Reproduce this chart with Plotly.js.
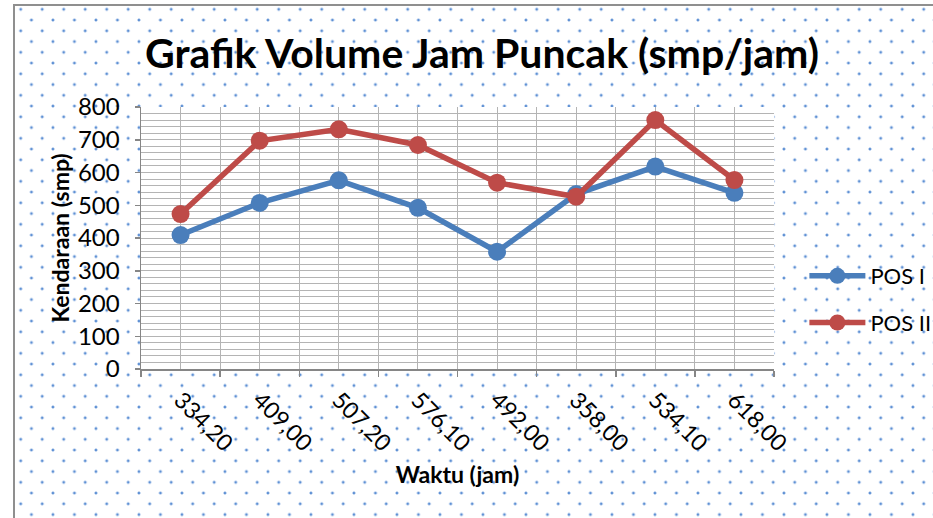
<!DOCTYPE html>
<html>
<head>
<meta charset="utf-8">
<script src="https://cdn.plot.ly/plotly-3.0.1.min.js"></script>
<style>
  html, body { margin:0; padding:0; background:#ffffff; }
  #wrap { position:relative; width:933px; height:518px; overflow:hidden; }
  #bg {
    position:absolute; left:13px; top:4px; width:930px; height:520px;
    border-left:2px solid #8f8f8f; border-top:2px solid #8f8f8f;
    background-image:
      radial-gradient(circle, #5e90d4 0px, #5e90d4 0.8px, rgba(94,144,212,0.45) 1.4px, rgba(94,144,212,0) 2px),
      radial-gradient(circle, #5e90d4 0px, #5e90d4 0.8px, rgba(94,144,212,0.45) 1.4px, rgba(94,144,212,0) 2px);
    background-size: 21.5px 21.5px, 21.5px 21.5px;
    background-position: -5.05px -7.45px, 5.7px 3.3px;
  }
  #chart { position:absolute; left:0; top:0; width:933px; height:518px; }
</style>
</head>
<body>
<div id="wrap">
  <div id="bg"></div>
  <div id="chart"></div>
</div>
<script>
// ---- data ----
var categories = ["334,20", "409,00", "507,20", "576,10", "492,00", "358,00", "534,10", "618,00"];
var posI  = [409, 507.2, 576.1, 492, 358, 534.1, 618, 538];
var posII = [473, 697, 732, 684, 569, 526, 760, 577];
var seriesNames = ["POS I", "POS II"];
var yTicks = [0, 100, 200, 300, 400, 500, 600, 700, 800];

var idx = categories.map(function (_, i) { return i; });
var gridCol = "#b4b4b4";
var axisCol = "#868686";
var font = "Lato, 'Open Sans', sans-serif";

var traces = [
  {
    x: idx, y: posI, name: seriesNames[0], type: "scatter", mode: "lines+markers",
    line: { color: "#4a7ebb", width: 5.5 },
    marker: { color: "#4a7ebb", size: 18 },
    legendgroup: "a"
  },
  {
    x: idx, y: posII, name: seriesNames[1], type: "scatter", mode: "lines+markers",
    line: { color: "#be4b48", width: 5.5 },
    marker: { color: "#be4b48", size: 18 },
    legendgroup: "b"
  }
];

var layout = {
  width: 933, height: 518,
  paper_bgcolor: "rgba(0,0,0,0)",
  plot_bgcolor: "#ffffff",
  margin: { l: 141, r: 159, t: 107, b: 149, pad: 0, autoexpand: false },
  font: { family: font, color: "#000000" },
  title: {
    text: "Grafik Volume Jam Puncak (smp/jam)",
    x: 482 / 933, xanchor: "center",
    y: 1 - 54 / 518, yanchor: "middle",
    font: { family: font, size: 41, weight: "bold", color: "#000000" }
  },
  xaxis: {
    type: "linear",
    range: [-0.5, categories.length - 0.5],
    tickmode: "array", tickvals: idx, ticktext: categories,
    tickangle: 45,
    ticks: "",
    ticklabelstandoff: 7,
    tickfont: { family: font, size: 23, color: "#000000" },
    showgrid: true, gridcolor: gridCol, gridwidth: 1,
    minor: { tickmode: "linear", tick0: -0.5, dtick: 1, ticks: "outside", ticklen: 6, tickcolor: axisCol, tickwidth: 1.5, showgrid: true, gridcolor: gridCol, gridwidth: 1 },
    showline: true, linecolor: axisCol, linewidth: 1.5,
    zeroline: false, fixedrange: true,
    automargin: false,
    title: { text: "Waktu (jam)", standoff: 12, font: { family: font, size: 23, weight: "bold", color: "#000000" } }
  },
  yaxis: {
    range: [0, 800],
    tickmode: "array", tickvals: yTicks,
    ticks: "outside", ticklen: 5, tickcolor: axisCol, tickwidth: 1.5,
    ticklabelstandoff: 10,
    tickfont: { family: font, size: 24, color: "#000000" },
    showgrid: true, gridcolor: gridCol, gridwidth: 1,
    minor: { dtick: 20, showgrid: true, gridcolor: gridCol, gridwidth: 1, ticks: "" },
    showline: true, linecolor: axisCol, linewidth: 1.5,
    zeroline: false, fixedrange: true,
    automargin: false,
    title: { text: "Kendaraan (smp)", standoff: 2, font: { family: font, size: 23, weight: "bold", color: "#000000" } }
  },
  showlegend: true,
  legend: {
    x: 1.048, xanchor: "left", y: 0.265, yanchor: "middle",
    bgcolor: "rgba(0,0,0,0)", borderwidth: 0,
    font: { family: font, size: 22, color: "#000000" },
    itemwidth: 56, tracegroupgap: 15
  }
};

Plotly.newPlot("chart", traces, layout, { staticPlot: true, displayModeBar: false });
</script>
</body>
</html>
